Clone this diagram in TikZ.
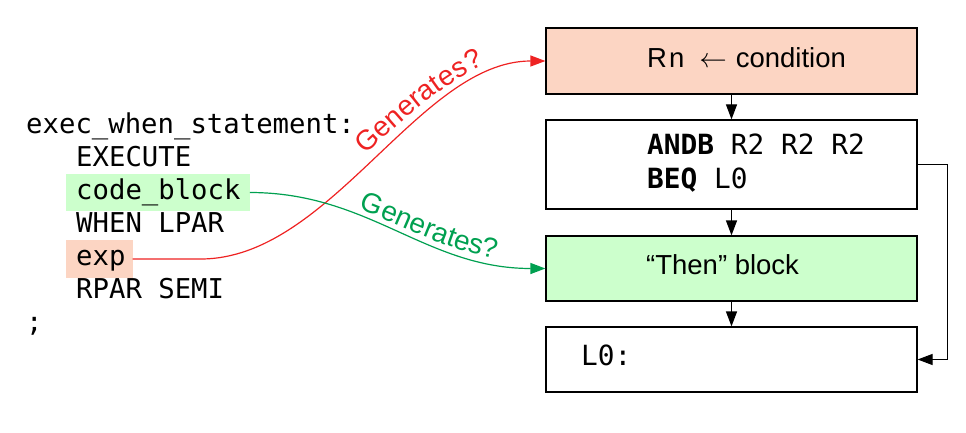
\RequirePackage{fix-cm}
\documentclass[tikz,border=0pt]{standalone}
\usepackage{fontspec}
\setmainfont{Liberation Sans}
\setmonofont{DejaVu Sans Mono}
\usetikzlibrary{arrows.meta,decorations.text}
\definecolor{salmon}{HTML}{FCD5C3}
\definecolor{mint}{HTML}{CCFFCC}
\definecolor{redc}{HTML}{EE2222}
\definecolor{greenc}{HTML}{00A050}
\newcommand\genfont{\fontsize{28pt}{30pt}\selectfont}
\begin{document}
\begin{tikzpicture}[x=1pt,y=-1pt,
  codetxt/.style={font=\fontsize{27.3pt}{33pt}\selectfont\ttfamily, anchor=base west, inner sep=0pt},
  hlbox/.style={codetxt, text height=25pt, text depth=12pt},
  blk/.style={draw, line width=1.2pt, minimum width=371pt, inner sep=0pt, rectangle},
  lbl/.style={font=\fontsize{27.5pt}{33pt}\selectfont, anchor=base west, inner sep=0pt},
  mono/.style={font=\fontsize{27.8pt}{33pt}\selectfont\ttfamily, anchor=base west, inner sep=0pt},
  arr/.style={line width=1.2pt, -{Triangle[length=15pt,width=11pt]}}]
\useasboundingbox (0,0) rectangle (966,433);
% left grammar text
\node[codetxt] (l1) at (26,133) {exec\_when\_statement:};
\node[codetxt] (l2) at (76,166) {EXECUTE};
\node[hlbox, fill=mint] (cb) at (66,199) {\kern10pt code\_block\kern9pt};
\node[codetxt] (l4) at (76,232) {WHEN LPAR};
\node[hlbox, fill=salmon, text depth=13pt] (ex) at (66,265) {\kern10pt exp\kern7pt};
\node[codetxt] (l6) at (76,298) {RPAR SEMI};
\node[codetxt] (l7) at (26,331) {;};
% boxes
\node[blk, fill=salmon, minimum height=66pt] (b1) at (731.5,61) {};
\node[blk, minimum height=89pt] (b2) at (731.5,164.5) {};
\node[blk, fill=mint, minimum height=65pt] (b3) at (731.5,268.5) {};
\node[blk, minimum height=65pt] (b4) at (731.5,359.5) {};
% box texts
\node[lbl] (t1) at (647,68) {R\kern2pt n\hspace{15pt}$\leftarrow$\hspace{9pt}condition};
\node[mono] (t2a) at (647,154) {\textbf{ANDB} R2 R2 R2};
\node[mono] (t2b) at (647,188) {\textbf{BEQ} L0};
\node[lbl] (t3) at (646,274) {“Then” block};
\node[mono] (t4) at (581,365) {L0:};
% flow arrows
\draw[arr] (b1.south) -- (b2.north);
\draw[arr] (b2.south) -- (b3.north);
\draw[arr] (b3.south) -- (b4.north);
\draw[arr] (b2.east) -- ++(30,0) |- (b4.east);
% generates curves
\draw[arr, redc] (ex.east) -- ++(68,0) to[out=0,in=180,out distance=130pt,in distance=126pt] (b1.west);
\path[decorate, decoration={text along path, text={|\genfont\color{redc}|Generates?}, text align={left indent=270pt}, raise=10pt}]
  (ex.east) -- ++(68,0) to[out=0,in=180,out distance=130pt,in distance=126pt] (b1.west);
\draw[arr, greenc] (cb.east) to[out=0,in=180,out distance=120pt,in distance=120pt] (b3.west);
\path[decorate, decoration={text along path, text={|\genfont\color{greenc}|Generates?}, text align={left indent=110pt}, raise=5pt}]
  (cb.east) to[out=0,in=180,out distance=120pt,in distance=120pt] (b3.west);
\end{tikzpicture}
\end{document}
